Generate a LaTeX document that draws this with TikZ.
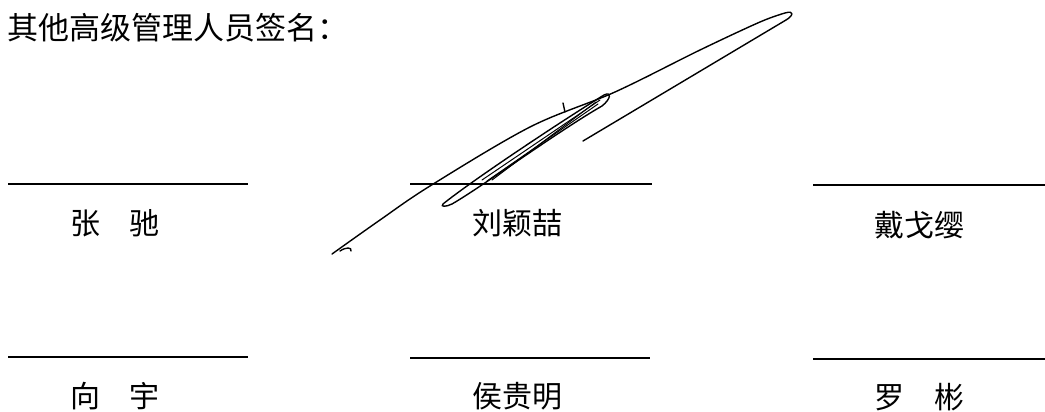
\documentclass[tikz,border=0pt]{standalone}
\usepackage{fontspec}
\newfontfamily\cjk{Noto Sans CJK SC}
\usepackage{tikz}
\usetikzlibrary{positioning,calc}

\tikzset{
    signline/.style={line width=1.5pt},
    namelabel/.style={font=\cjk\fontsize{30}{30}\selectfont, inner sep=0pt},
    sigpen/.style={line width=1.4pt, line cap=round, line join=round},
}

\begin{document}
\begin{tikzpicture}[x=1pt,y=-1pt]
    \useasboundingbox (0,0) rectangle (1045,412);
    % Heading
    \node[anchor=west, inner sep=0pt, font=\cjk\fontsize{31}{31}\selectfont] (title) at (7,28) {其他高级管理人员签名：};

    % Signature lines, first row
    \coordinate (la1) at (8,184);   \coordinate (lb1) at (248,184);
    \coordinate (ma1) at (410,184); \coordinate (mb1) at (652,184);
    \coordinate (ra1) at (813,185); \coordinate (rb1) at (1045,185);
    \draw[signline] (la1) -- (lb1);
    \draw[signline] (ma1) -- (mb1);
    \draw[signline] (ra1) -- (rb1);
    % Signature lines, second row
    \coordinate (la2) at (8,357);   \coordinate (lb2) at (248,357);
    \coordinate (ma2) at (410,358); \coordinate (mb2) at (650,358);
    \coordinate (ra2) at (813,359); \coordinate (rb2) at (1045,359);
    \draw[signline] (la2) -- (lb2);
    \draw[signline] (ma2) -- (mb2);
    \draw[signline] (ra2) -- (rb2);

    % Names
    \node[namelabel] (zhang) at (115,223) {张　驰};
    \node[namelabel] (liu)   at (517,223) {刘颖喆};
    \node[namelabel] (dai)   at (919,225) {戴戈缨};
    \node[namelabel] (xiang) at (115,396) {向　宇};
    \node[namelabel] (hou)   at (517,396) {侯贵明};
    \node[namelabel] (luo)   at (919,397) {罗　彬};

    % Handwritten signature
    \draw[sigpen] plot[smooth, tension=0.55] coordinates {(332,254) (380,220) (430,186) (530,127) (615,92) (700,50) (760,22) (785,13)}
        .. controls (795,10) and (793,16) .. (786,20) -- (583,141);
    \draw[sigpen] (340,251) .. controls (346,247) and (352,247) .. (351,251); % hook
    \draw[sigpen] (443,204) .. controls (470,182) and (560,122) .. (604,95)
        .. controls (612,91) and (611,99) .. (602,106)
        .. controls (560,130) and (480,188) .. (452,204)
        .. controls (446,207) and (440,207) .. (443,204); % loop
    \draw[sigpen, line width=1pt] (482,180) -- (600,100);
    \draw[sigpen, line width=1pt] (487,181) -- (598,104);
    \draw[sigpen, line width=1pt] (492,180) -- (596,102);
    \draw[sigpen] (563,103) -- (565,112); % tick
\end{tikzpicture}
\end{document}
